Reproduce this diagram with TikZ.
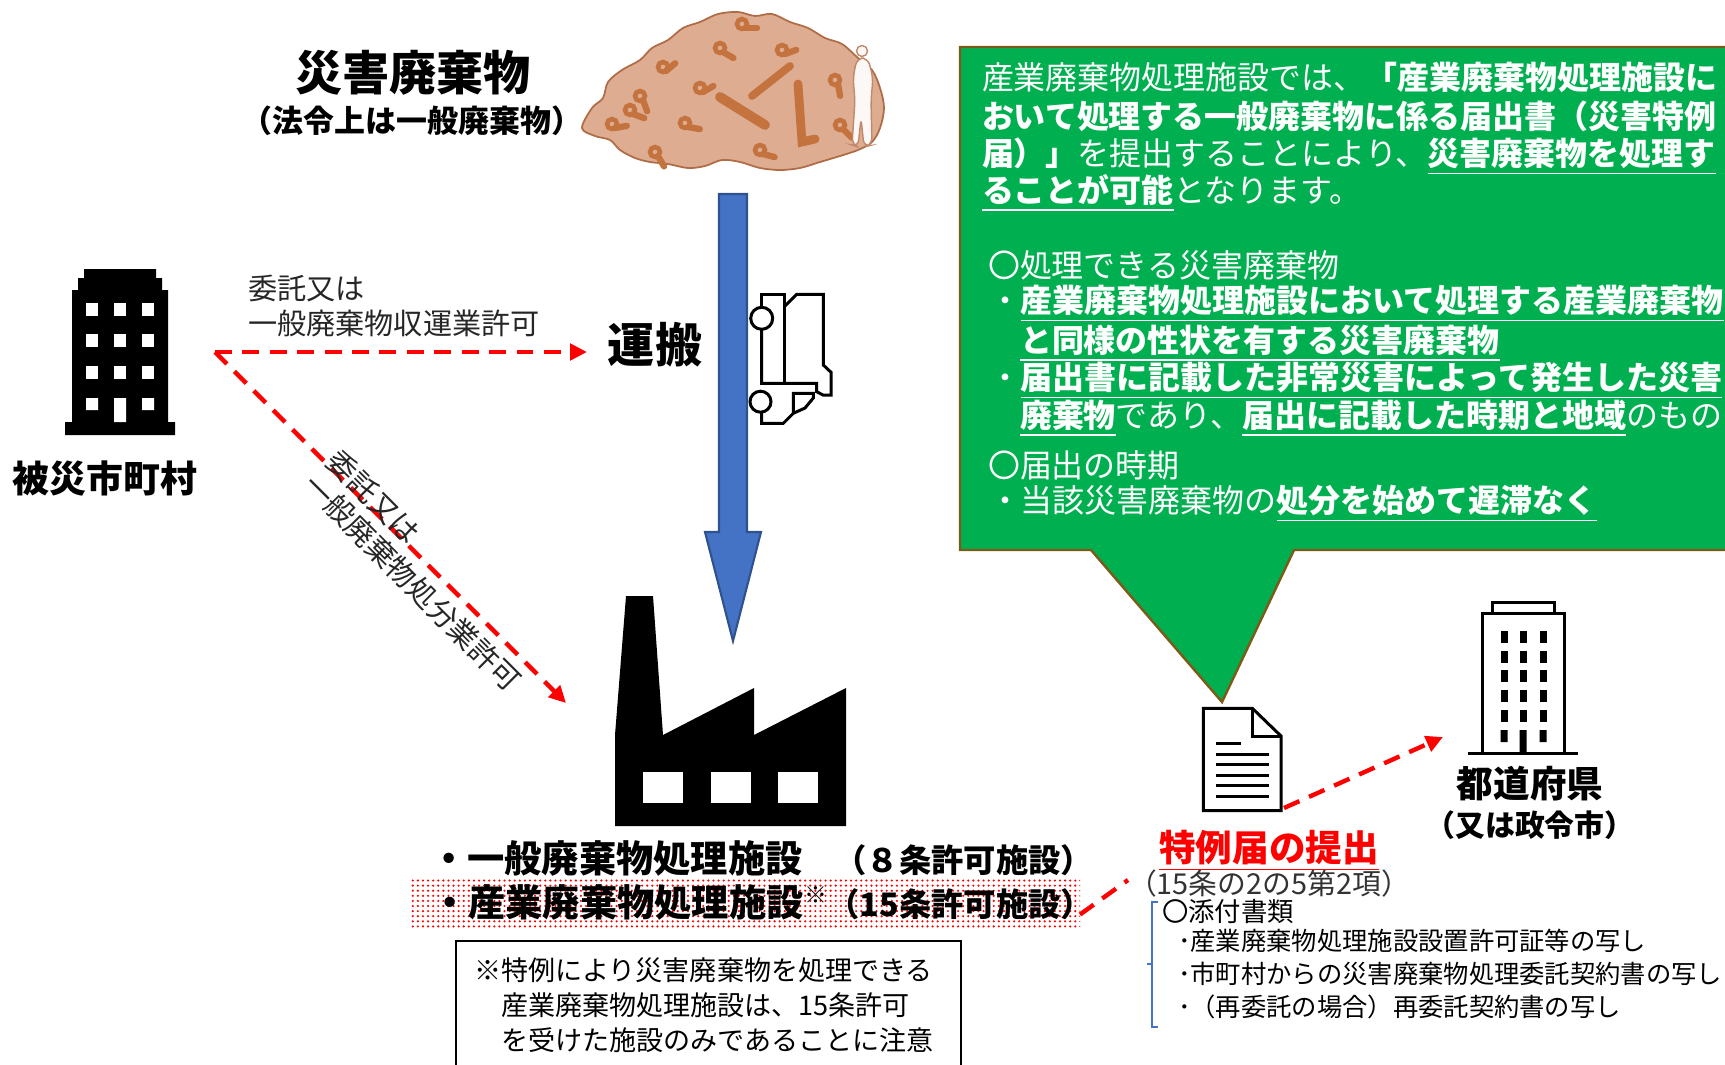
\documentclass[tikz,border=0pt]{standalone}
\usepackage{fontspec}
\setmainfont{Noto Sans CJK JP}
\usepackage{tikz}
\usetikzlibrary{arrows.meta,patterns,calc}
\definecolor{notice green}{HTML}{00B050}
\definecolor{notice rim}{RGB}{122,92,24}
\definecolor{haul blue}{HTML}{4472C4}
\definecolor{haul blue rim}{HTML}{2F528F}
\definecolor{rubble}{RGB}{222,172,145}
\definecolor{rubble rim}{RGB}{176,108,70}
\definecolor{rubble bits}{RGB}{196,114,62}
% small red dots behind the industrial plant line
\pgfdeclarepatternformonly{fine dots}{\pgfpoint{-1pt}{-1pt}}{\pgfpoint{1pt}{1pt}}{\pgfpoint{1.45pt}{1.45pt}}{%
	\pgfpathcircle{\pgfpointorigin}{0.34pt}\pgfusepath{fill}}
\newcommand{\jpsize}[1]{\fontsize{#1}{#1}\selectfont}
\newcommand{\uln}[1]{\underline{#1}}
\tikzset{
	waste flow/.style={
		x=0.1mm,y=-0.1mm, % one unit per pixel, y pointing down
		every node/.style={inner sep=0pt,outer sep=0pt}
	},
	heading/.style={font=\jpsize{13.4}\bfseries,anchor=base},
	caption/.style={font=\jpsize{10.5}\bfseries,anchor=base},
	permit text/.style={font=\jpsize{8.3},text=black!85,anchor=base west},
	permit link/.style={red,line width=1.25pt,dash pattern=on 4.8pt off 3pt},
	permit arrow/.style={
		permit link,
		-{Triangle[length=4.8pt,width=4.6pt]}
	},
	icon line/.style={line width=0.85pt,line join=miter},
	notice text/.style={font=\jpsize{9.1},text=white,anchor=base west},
	plant text/.style={font=\jpsize{10.6}\bfseries,anchor=base west},
	plant permit/.style={font=\jpsize{9.2}\bfseries,anchor=base east},
	footnote text/.style={font=\jpsize{7.7},anchor=base west},
	appendix text/.style={font=\jpsize{7.2},anchor=base west},
	dot band/.style={pattern=fine dots,pattern color=red}
}
\begin{document}
\begin{tikzpicture}[waste flow]
	\useasboundingbox (0,0) rectangle (1725,1064);
	\clip (0,0) rectangle (1725,1064);

	% heap of rubble
	\filldraw[fill=rubble,draw=rubble rim,line width=0.5pt]
		plot[smooth cycle,tension=0.55] coordinates {
			(582,128) (592,108) (603,98) (608,82) (622,70) (640,60) (652,48)
			(668,40) (683,28) (700,22) (718,14) (738,12) (755,16) (772,14)
			(790,22) (808,28) (825,38) (842,44) (858,58) (872,70) (880,88)
			(884,108) (880,128) (872,142) (858,150) (840,156) (820,162)
			(800,168) (780,170) (760,168) (740,162) (722,160) (705,166)
			(688,168) (668,164) (650,162) (635,158) (620,150) (610,140) (595,136)};
	\begin{scope}[rubble bits,line cap=round]
		\draw[line width=2.8pt] (720,97) -- (765,125);
		\draw[line width=2.2pt] (752,96) -- (790,66);
		\draw[line width=2.5pt] (798,84) -- (802,142) -- (815,139);
		\foreach \x/\y/\a in {720/48/30,782/50/-20,685/123/10,655/152/60,663/67/-40,
			742/24/0,630/110/20,835/80/80,700/88/-30,840/125/45,760/150/15,640/96/70,612/124/-10}
		{
			\draw[line width=1.3pt] (\x,\y) circle[radius=5];
			\draw[line width=1.8pt] (\x+3,\y+4) -- ++(\a:12);
		}
	\end{scope}
	\filldraw[fill=white!92!rubble,draw=rubble rim!80,line width=0.4pt,rounded corners=2]
		(857,58) -- (868,58) -- (873,78) -- (871,100) -- (872,145) -- (864,147) -- (861,118)
		-- (858,147) -- (852,145) -- (855,100) -- (853,78) -- cycle;
	\filldraw[fill=white!92!rubble,draw=rubble rim!80,line width=0.4pt] (862,51) circle[radius=5.5];

	\node[heading] (waste) at (413,90) {災害廃棄物};
	\node[font=\jpsize{8.8}\bfseries,anchor=base] (waste-note) at (412,132) {（法令上は一般廃棄物）};

	% haulage
	\filldraw[fill=haul blue,draw=haul blue rim,line width=0.6pt]
		(719,194) -- (747,194) -- (747,532) -- (761,532) -- (733,641) -- (705,532) -- (719,532) -- cycle;
	\begin{scope}[icon line]
		\draw (761.7,307) -- (761.7,294.3) -- (784.3,294.3) -- (784.3,383.3);
		\draw (761.7,329.5) -- (761.7,383.3) -- (816.7,383.3) -- (816.7,391.7) -- (823,395) -- (831,395)
			-- (831,372.3) -- (823.3,365) -- (823.3,294.3) -- (796.7,294.3) -- (784.3,306.7);
		\draw (761.7,318.3) circle[radius=11];
		\draw (760.5,401.7) circle[radius=10.5];
		\draw (761.7,412.5) -- (761.7,423.3) -- (783.3,423.3) -- (793.3,413.3) -- (805,408)
			-- (813.3,398) -- (813.3,393.3) -- (793.3,393.3) -- (793.3,413.3);
	\end{scope}
	\node[heading] (haul) at (655,362) {運搬};

	% municipality
	\fill (84,269) -- (156,269) -- (156,278) -- (162,278) -- (162,290) -- (168,290) -- (168,422)
		-- (175,422) -- (175,435) -- (65,435) -- (65,422) -- (72,422) -- (72,290) -- (78,290)
		-- (78,278) -- (84,278) -- cycle;
	\foreach \x in {92,120,148}
		\foreach \y in {309,340.5,372.5}
			\fill[white] (\x-6,\y-6.5) rectangle (\x+6,\y+6.5);
	\fill[white] (86,398) rectangle (98,410) (142,398) rectangle (154,410) (114,398) rectangle (126,422);
	\node[caption] (town) at (105,492) {被災市町村};

	\coordinate (hub) at (215,352);
	\coordinate (haul-in) at (587,352);
	\coordinate (plant-in) at (566,703);
	\draw[permit arrow] (hub) -- (haul-in);
	\draw[permit arrow] (hub) -- (plant-in);
	\node[permit text] (haul-permit) at (248,299) {委託又は};
	\node[permit text] (haul-permit-2) at (248,334) {一般廃棄物収運業許可};
	\node[font=\fontsize{8.3}{9.4}\selectfont,text=black!85,align=left,rotate=-45]
		(dispose-permit) at (424,571) {委託又は\\一般廃棄物処分業許可};

	% treatment plant
	\fill (626,596) -- (653,596) -- (663,735) -- (754,688) -- (754,735) -- (846,688) -- (846,826)
		-- (615,826) -- (615,735) -- cycle;
	\foreach \x in {643,711,778}
		\fill[white] (\x,772) rectangle +(40,31);

	\node[dot band,minimum width=66.9mm,minimum height=5.1mm] (band) at (745.5,902.5) {};
	\node[plant text] (general) at (430,872) {・一般廃棄物処理施設};
	\node[plant permit] (general-permit) at (1093,872) {（８条許可施設）};
	\node[plant text] (industrial) at (431,916) {・産業廃棄物処理施設};
	\node[font=\jpsize{6.5},anchor=base west] (industrial-mark) at (804,903) {※};
	\node[plant permit] (industrial-permit) at (1093,916) {（15条許可施設）};

	\draw[line width=0.6pt] (456,1075) |- (961,941) -- (961,1075);
	\node[footnote text] (caveat) at (474,980) {※特例により災害廃棄物を処理できる};
	\node[footnote text] (caveat-2) at (501,1015) {産業廃棄物処理施設は、15条許可};
	\node[footnote text] (caveat-3) at (501,1050) {を受けた施設のみであることに注意};

	% callout
	\filldraw[fill=notice green,draw=notice rim,line width=0.7pt]
		(960,47) -- (1740,47) -- (1740,550) -- (1294,550) -- (1222,702) -- (1091,550) -- (960,550) -- cycle;
	\node[notice text] (notice) at (982,89) {産業廃棄物処理施設では、{\bfseries 「産業廃棄物処理施設に}};
	\node[notice text] (notice-2) at (982,128) {\bfseries おいて処理する一般廃棄物に係る届出書（災害特例};
	\node[notice text] (notice-3) at (982,165) {{\bfseries 届）」}を提出することにより、{\bfseries\uln{災害廃棄物を処理す}}};
	\node[notice text] (notice-4) at (982,202) {{\bfseries\uln{ることが可能}}となります。};
	\node[notice text] (kinds) at (988,277) {〇処理できる災害廃棄物};
	\node[notice text] (kinds-1) at (989,312) {・{\bfseries\uln{産業廃棄物処理施設において処理する産業廃棄物}}};
	\node[notice text] (kinds-1b) at (1020,352) {\bfseries\uln{と同様の性状を有する災害廃棄物}};
	\node[notice text] (kinds-2) at (989,389) {・{\bfseries\uln{届出書に記載した非常災害によって発生した災害}}};
	\node[notice text] (kinds-2b) at (1020,427) {{\bfseries\uln{廃棄物}}であり、{\bfseries\uln{届出に記載した時期と地域}}のもの};
	\node[notice text] (timing) at (988,477) {〇届出の時期};
	\node[notice text] (timing-1) at (989,512) {・当該災害廃棄物の{\bfseries\uln{処分を始めて遅滞なく}}};

	% filing form
	\begin{scope}[icon line]
		\filldraw[fill=white] (1203.3,708.3) -- (1252.3,708.3) -- (1281,736) -- (1281,810.7) -- (1203.3,810.7) -- cycle;
		\draw (1252.3,708.3) -- (1252.3,736) -- (1281,736);
		\draw (1215.7,743.3) -- (1241,743.3);
		\foreach \y in {754,764,775,785.7,796.7}
			\draw (1215.7,\y) -- (1269,\y);
	\end{scope}

	% prefecture office
	\begin{scope}[icon line]
		\draw[fill=white] (1492.6,602.3) rectangle (1554.4,613.3);
		\draw[fill=white] (1482.6,613.3) rectangle (1564.3,753.3);
		\draw (1467.5,753.3) -- (1578.3,753.3);
	\end{scope}
	\foreach \x in {1504,1523,1543}
		\foreach \y in {637,656.5,676,696,716}
			\fill (\x-3.5,\y-6) rectangle (\x+3.5,\y+6);
	\fill (1500.5,730) rectangle (1507.5,742) (1539.5,730) rectangle (1546.5,742) (1519.7,730) rectangle (1526.5,753.3);
	\node[caption,font=\jpsize{10.4}\bfseries] (pref) at (1530,797) {都道府県};
	\node[anchor=base,font=\jpsize{8.5}\bfseries] (pref-alt) at (1530,836) {（又は政令市）};

	\coordinate (form-corner) at (1284,808);
	\coordinate (pref-in) at (1443,737);
	\draw[permit arrow] (form-corner) -- (pref-in);

	\node[anchor=base,font=\jpsize{10.4}\bfseries,text=red] (filing) at (1269,861) {\uln{特例届の提出}};
	\node[anchor=base,font=\jpsize{8.2},text=black!80] (filing-law) at (1269,894) {（15条の2の5第2項）};
	\coordinate (filing-hook) at (1128,880);
	\draw[permit link] ($(band.east)+(0,12)$) -- (filing-hook);

	\draw[haul blue,line width=0.5pt] (1158,902) -- (1152,902) -- (1152,1027) -- (1158,1027) (1152,964) -- (1147,964);
	\node[appendix text,font=\jpsize{7.5}] (appendix) at (1162,921) {〇添付書類};
	\node[appendix text] (appendix-1) at (1178,950) {･産業廃棄物処理施設設置許可証等の写し};
	\node[appendix text] (appendix-2) at (1178,983) {･市町村からの災害廃棄物処理委託契約書の写し};
	\node[appendix text] (appendix-3) at (1178,1016) {･（再委託の場合）再委託契約書の写し};
\end{tikzpicture}
\end{document}
